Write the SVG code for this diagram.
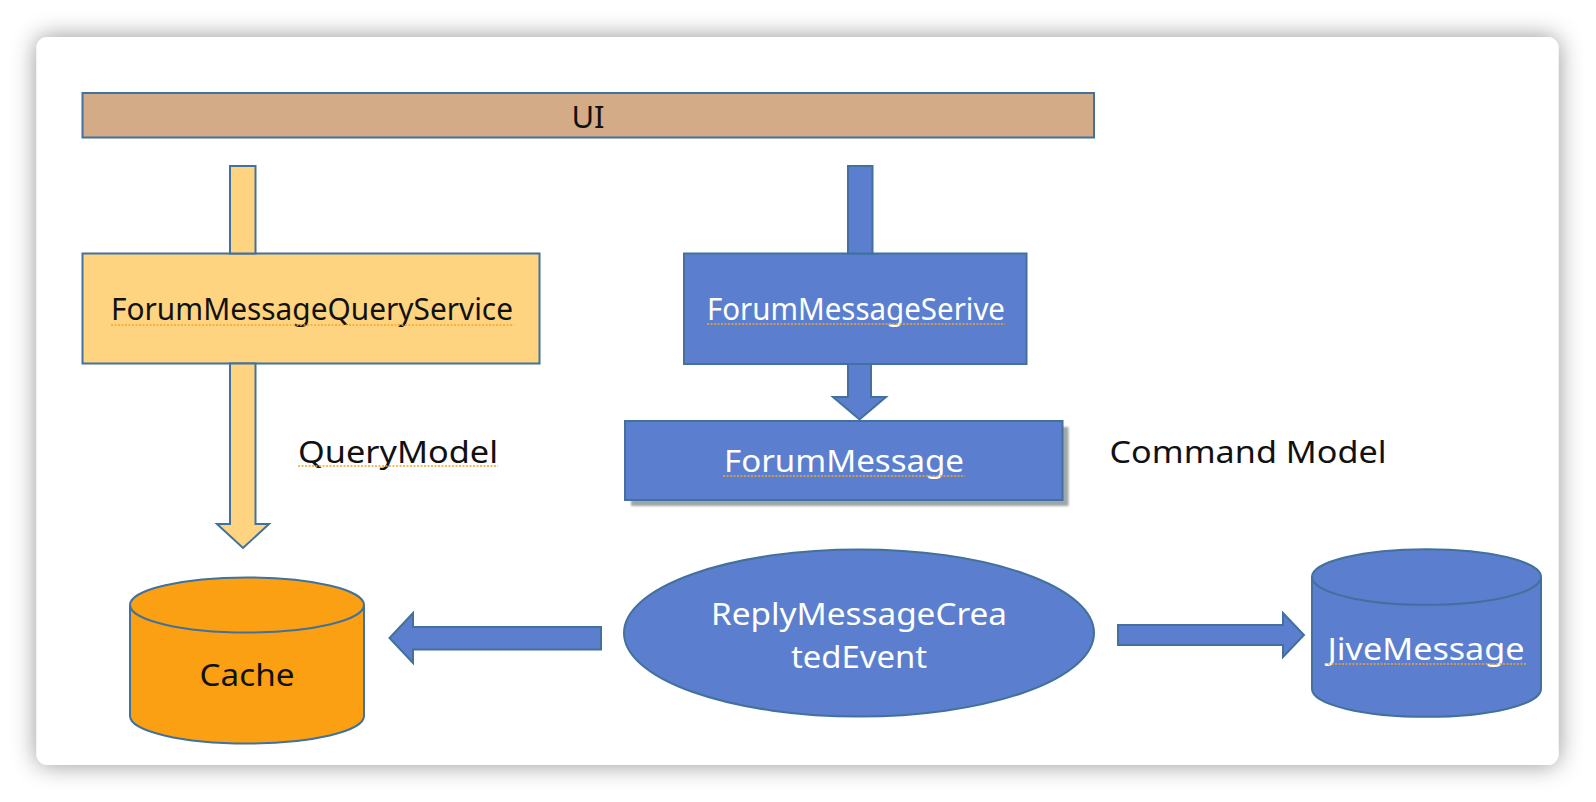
<svg xmlns="http://www.w3.org/2000/svg" width="1596" height="802" viewBox="0 0 1596 802">
<defs>
<filter id="cardShadow" x="-5%" y="-10%" width="110%" height="120%">
<feDropShadow dx="0" dy="0" stdDeviation="12" flood-color="#000" flood-opacity="0.42"/>
</filter>
<filter id="boxShadow" x="-5%" y="-10%" width="110%" height="130%">
<feGaussianBlur stdDeviation="1.2"/>
</filter>
<style>
.stk{stroke:#41719C;stroke-width:2}
.tan{fill:#D3AB87}
.yel{fill:#FFD480}
.blu{fill:#5B7FCE}
.org{fill:#FAA012}
.t{font-family:"Noto Sans","Open Sans","DejaVu Sans",sans-serif;font-size:31px;text-anchor:middle}
.dark{fill:#111}
.wh{fill:#fff}
.sq{fill:none;stroke:#F2A52C;stroke-width:1.6;stroke-dasharray:2 1.5}
</style>
</defs>
<rect width="1596" height="802" fill="#fff"/>
<rect x="36.5" y="37" width="1522" height="728" rx="11" fill="#fff" filter="url(#cardShadow)"/>

<g id="ui">
<rect x="82.5" y="93" width="1011.5" height="44.5" class="tan stk"/>
<text x="588" y="128" class="t dark" font-size="30">UI</text>
</g>

<g id="forumMessageQueryService">
<rect x="82.5" y="253.5" width="457" height="110" class="yel stk"/>
<text x="312" y="320" class="t dark" font-size="30" textLength="402" lengthAdjust="spacingAndGlyphs">ForumMessageQueryService</text>
<line x1="111" y1="325" x2="514" y2="325" class="sq"/>
</g>

<g id="queryModel">
<text x="398" y="463" class="t dark" textLength="200" lengthAdjust="spacingAndGlyphs">QueryModel</text>
<line x1="298" y1="466" x2="498" y2="466" class="sq"/>
</g>

<g id="forumMessageSerive">
<rect x="684" y="253.5" width="342.5" height="110.5" class="blu stk"/>
<text x="856" y="320" class="t wh" font-size="30" textLength="298" lengthAdjust="spacingAndGlyphs">ForumMessageSerive</text>
<line x1="707" y1="324" x2="1005" y2="324" class="sq"/>
</g>

<g id="forumMessage">
<rect x="631" y="427" width="437.5" height="79" fill="#9DA6A8" filter="url(#boxShadow)"/>
<rect x="625" y="421" width="437.5" height="79" class="blu stk"/>
<text x="844" y="472" class="t wh" textLength="240" lengthAdjust="spacingAndGlyphs">ForumMessage</text>
<line x1="723" y1="476" x2="965" y2="476" class="sq"/>
</g>

<g id="commandModel">
<text x="1248" y="463" class="t dark" textLength="277" lengthAdjust="spacingAndGlyphs">Command Model</text>
</g>

<g id="cache">
<path d="M130,605 A117,27.5 0 0 1 364,605 L364,716 A117,27.5 0 0 1 130,716 Z" class="org stk"/>
<path d="M130,605 A117,27.5 0 0 0 364,605" fill="none" class="stk"/>
<text x="247" y="686" class="t dark" textLength="95" lengthAdjust="spacingAndGlyphs">Cache</text>
</g>

<g id="replyMessageCreatedEvent">
<ellipse cx="859" cy="633" rx="235" ry="83.5" class="blu stk"/>
<text x="859" y="625" class="t wh" textLength="296" lengthAdjust="spacingAndGlyphs">ReplyMessageCrea</text>
<text x="859" y="668" class="t wh" textLength="136" lengthAdjust="spacingAndGlyphs">tedEvent</text>
</g>

<g id="jiveMessage">
<path d="M1312,577 A114.5,27.8 0 0 1 1541,577 L1541,689 A114.5,27.8 0 0 1 1312,689 Z" class="blu stk"/>
<path d="M1312,577 A114.5,27.8 0 0 0 1541,577" fill="none" class="stk"/>
<text x="1426" y="660" class="t wh" textLength="197" lengthAdjust="spacingAndGlyphs">JiveMessage</text>
<line x1="1328" y1="664" x2="1527" y2="664" class="sq"/>
</g>

<g id="connectors">
<rect x="230" y="166" width="25.5" height="87.5" class="yel stk"/>
<polygon points="230,363.5 255.5,363.5 255.5,524 269,524 243,548 217,524 230,524" class="yel stk"/>
<rect x="848" y="166" width="24.5" height="87.5" class="blu stk"/>
<polygon points="848,364 871,364 871,397 886,397 859.5,419.5 833,397 848,397" class="blu stk"/>
<polygon points="601,627 601,649.5 413,649.5 413,663 389.5,638 413,613 413,627" class="blu stk"/>
<polygon points="1118,625 1283,625 1283,613 1304,635 1283,657 1283,645 1118,645" class="blu stk"/>
</g>
</svg>
